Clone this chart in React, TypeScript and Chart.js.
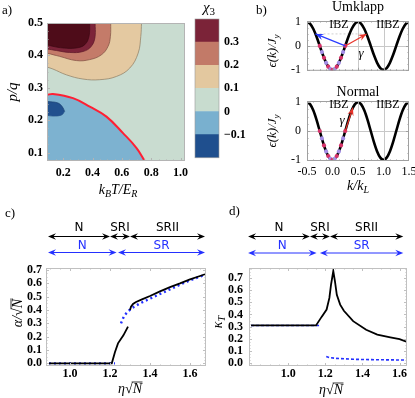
import React, { useEffect, useRef } from "react";
import { Chart, registerables } from "chart.js";

Chart.register(...registerables);

const SERIF = '"Liberation Serif", "DejaVu Serif", serif';
const SANS = '"DejaVu Sans", "Liberation Sans", sans-serif';

// ================= Panel a : chi3 contour map =================
const aXTicks = [0.2, 0.4, 0.6, 0.8, 1.0];
const aYTicks = [0.1, 0.2, 0.3, 0.4, 0.5];
const beigeX = [0.09, 0.13, 0.222, 0.335, 0.449, 0.563, 0.654, 0.711, 0.729, 0.734];
const beigeY = [0.364, 0.358, 0.34, 0.327, 0.325, 0.335, 0.361, 0.407, 0.459, 0.5];
const salmonX = [0.09, 0.176, 0.29, 0.381, 0.461, 0.506, 0.522, 0.524];
const salmonY = [0.407, 0.397, 0.384, 0.387, 0.402, 0.428, 0.459, 0.5];
const maroonX = [0.09, 0.154, 0.244, 0.335, 0.392, 0.418, 0.418];
const maroonY = [0.42, 0.415, 0.409, 0.412, 0.428, 0.459, 0.5];
const darkX = [0.09, 0.13, 0.199, 0.29, 0.347, 0.376, 0.381];
const darkY = [0.433, 0.428, 0.423, 0.423, 0.433, 0.459, 0.5];
const zeroX = [0.09, 0.13, 0.267, 0.381, 0.495, 0.608, 0.7, 0.756];
const zeroY = [0.278, 0.281, 0.268, 0.242, 0.211, 0.16, 0.114, 0.074];
const blobTopX = [0.09, 0.165, 0.195, 0.21];
const blobTopY = [0.258, 0.253, 0.241, 0.227];
const blobBotX = [0.09, 0.13, 0.188, 0.21];
const blobBotY = [0.215, 0.213, 0.216, 0.227];

// ================= colour bar =================
const cbLevels = [-0.2, -0.1, 0, 0.1, 0.2, 0.3, 0.4];
const cbColors = ["#1f4f8e", "#79b0cf", "#c8dccf", "#e3c89f", "#c27a68", "#7b2338"];
const cbTicks = [-0.1, 0, 0.1, 0.2, 0.3];

// ================= Panel b : dispersion =================
const bK = [-0.5, -0.4375, -0.375, -0.3125, -0.25, -0.1875, -0.125, -0.0625, 0, 0.0625, 0.125, 0.1875, 0.25, 0.3125, 0.375, 0.4375, 0.5, 0.5625, 0.625, 0.6875, 0.75, 0.8125, 0.875, 0.9375, 1.0, 1.0625, 1.125, 1.1875, 1.25, 1.3125, 1.375, 1.4375, 1.5];
const bE = [1, 0.924, 0.707, 0.383, 0, -0.383, -0.707, -0.924, -1, -0.924, -0.707, -0.383, 0, 0.383, 0.707, 0.924, 1, 0.924, 0.707, 0.383, 0, -0.383, -0.707, -0.924, -1, -0.924, -0.707, -0.383, 0, 0.383, 0.707, 0.924, 1];
const bDotK = [-0.25, -0.208, -0.167, -0.125, -0.083, -0.042, 0, 0.042, 0.083, 0.125, 0.167, 0.208, 0.25];
const bDotE = [0, -0.259, -0.5, -0.707, -0.866, -0.966, -1, -0.966, -0.866, -0.707, -0.5, -0.259, 0];
const bXTicks = [-0.5, 0, 0.5, 1.0, 1.5];
const bYTicks = [-1, 0, 1];
const bGridX = [0.5, 1.0];
const bGridY = [0];
const umklappBlueX = [0.25, -0.333];
const umklappBlueY = [0, 0.5];
const umklappRedX = [0.25, 0.667];
const umklappRedY = [0, 0.5];
const halfLineX = [-0.333, 0.667];
const halfLineY = [0.5, 0.5];
const normalRedX = [0.25, 0.4];
const normalRedY = [0, 0.81];

// ================= Panel c : alpha / sqrt(N) =================
const cXTicks = [1.0, 1.2, 1.4, 1.6];
const cYTicks = [0, 0.1, 0.2, 0.3, 0.4, 0.5, 0.6, 0.7];
const cBlackX = [0.895, 1.0, 1.1, 1.2, 1.209, 1.225, 1.24, 1.267, 1.29, 1.295, 1.3, 1.305, 1.315, 1.33, 1.36, 1.4, 1.45, 1.5, 1.55, 1.6, 1.65, 1.678];
const cBlackY = [0, 0, 0, 0, 0, 0.085, 0.15, 0.21, 0.275, null, 0.4, 0.425, 0.445, 0.46, 0.48, 0.505, 0.54, 0.572, 0.6, 0.63, 0.655, 0.67];
const cBlueX = [0.895, 1.0, 1.1, 1.2, 1.225, 1.24, 1.255, 1.27, 1.29, 1.31, 1.35, 1.4, 1.45, 1.5, 1.55, 1.6, 1.65, 1.678];
const cBlueY = [0, 0, 0, 0, 0, null, 0.3, 0.355, 0.39, 0.415, 0.45, 0.485, 0.52, 0.555, 0.59, 0.622, 0.65, 0.665];
const cPhaseBlack = [[0.89, 1.2], [1.2, 1.3], [1.3, 1.675]];
const cPhaseBlue = [[0.89, 1.233], [1.24, 1.675]];

// ================= Panel d : kappa_T =================
const dXTicks = [1.0, 1.2, 1.4, 1.6];
const dYTicks = [0, 0.1, 0.2, 0.3, 0.4, 0.5, 0.6, 0.7];
const dBlackX = [0.8, 0.9, 1.0, 1.1, 1.15, 1.18, 1.207, 1.222, 1.231, 1.243, 1.252, 1.262, 1.28, 1.3, 1.35, 1.42, 1.48, 1.55, 1.6, 1.64];
const dBlackY = [0.31, 0.31, 0.31, 0.31, 0.31, 0.38, 0.44, 0.535, 0.645, 0.755, 0.67, 0.56, 0.48, 0.43, 0.345, 0.275, 0.235, 0.212, 0.197, 0.175];
const dBlueX = [0.8, 0.9, 1.0, 1.1, 1.175, 1.19, 1.205, 1.22, 1.26, 1.35, 1.45, 1.55, 1.64];
const dBlueY = [0.31, 0.31, 0.31, 0.31, 0.31, null, 0.055, 0.047, 0.04, 0.033, 0.03, 0.028, 0.027];
const dPhaseBlack = [[0.784, 1.117], [1.117, 1.225], [1.225, 1.62]];
const dPhaseBlue = [[0.784, 1.153], [1.171, 1.62]];
const phaseBlackLabels = ["N", "SRI", "SRII"];
const phaseBlueLabels = ["N", "SR"];

const BLUE = "#2430ff";

// ---------------- helpers ----------------
type Part = { t: string; it?: boolean; sub?: boolean; over?: boolean };

function drawRich(ctx: any, parts: Part[], x: number, y: number, size: number, align = "center", rot = 0, color = "#000", family = SERIF) {
  ctx.save();
  ctx.translate(x, y);
  if (rot) ctx.rotate(rot);
  ctx.fillStyle = color;
  ctx.strokeStyle = color;
  ctx.textBaseline = "middle";
  ctx.textAlign = "left";
  const fontOf = (p: Part) => `${p.it ? "italic " : ""}${p.sub ? Math.round(size * 0.7) : size}px ${family}`;
  let total = 0;
  const ws = parts.map((p) => {
    ctx.font = fontOf(p);
    const w = ctx.measureText(p.t).width;
    total += w;
    return w;
  });
  let cx = align === "center" ? -total / 2 : align === "right" ? -total : 0;
  parts.forEach((p, i) => {
    ctx.font = fontOf(p);
    const dy = p.sub ? size * 0.3 : 0;
    ctx.fillText(p.t, cx, dy);
    if (p.over) {
      ctx.lineWidth = 0.8;
      ctx.beginPath();
      ctx.moveTo(cx - 1, -size * 0.5);
      ctx.lineTo(cx + ws[i] + 0.5, -size * 0.5);
      ctx.stroke();
    }
    cx += ws[i];
  });
  ctx.restore();
}

function arrowHead(ctx: any, x0: number, y0: number, x1: number, y1: number, len: number, half: number, color: string) {
  const a = Math.atan2(y1 - y0, x1 - x0);
  ctx.save();
  ctx.translate(x1, y1);
  ctx.rotate(a);
  ctx.fillStyle = color;
  ctx.beginPath();
  ctx.moveTo(0, 0);
  ctx.lineTo(-len, -half);
  ctx.lineTo(-len * 0.65, 0);
  ctx.lineTo(-len, half);
  ctx.closePath();
  ctx.fill();
  ctx.restore();
}

function drawFrame(chart: any, color: string, xMaj: number[], yMaj: number[], majLen = 4, mirror = true) {
  const { ctx, chartArea } = chart;
  const { left, right, top, bottom } = chartArea;
  const sx = chart.scales.x;
  const sy = chart.scales.y;
  ctx.save();
  ctx.strokeStyle = color;
  ctx.lineWidth = 1;
  ctx.strokeRect(left + 0.5, top + 0.5, right - left - 1, bottom - top - 1);
  const minorOf = (vals: number[], lo: number, hi: number) => {
    const out: number[] = [];
    if (vals.length < 2) return out;
    const step = (vals[1] - vals[0]) / 4;
    for (let v = vals[0] - step * 8; v <= hi + 1e-9; v += step) {
      if (v >= lo - 1e-9) out.push(v);
    }
    return out;
  };
  const drawX = (vals: number[], len: number) => {
    vals.forEach((v) => {
      const p = Math.round(sx.getPixelForValue(v)) + 0.5;
      if (p < left || p > right) return;
      ctx.beginPath();
      ctx.moveTo(p, bottom);
      ctx.lineTo(p, bottom - len);
      if (mirror) {
        ctx.moveTo(p, top);
        ctx.lineTo(p, top + len);
      }
      ctx.stroke();
    });
  };
  const drawY = (vals: number[], len: number) => {
    vals.forEach((v) => {
      const p = Math.round(sy.getPixelForValue(v)) + 0.5;
      if (p < top || p > bottom) return;
      ctx.beginPath();
      ctx.moveTo(left, p);
      ctx.lineTo(left + len, p);
      if (mirror) {
        ctx.moveTo(right, p);
        ctx.lineTo(right - len, p);
      }
      ctx.stroke();
    });
  };
  drawX(xMaj, majLen);
  drawY(yMaj, majLen);
  drawX(minorOf(xMaj, sx.min, sx.max), majLen / 2);
  drawY(minorOf(yMaj, sy.min, sy.max), majLen / 2);
  ctx.restore();
}

function pts(xs: number[], ys: any[]) {
  return xs.map((x, i) => ({ x, y: ys[i] }));
}

function axis(min: number, max: number, ticks: number[], fmt: (v: number) => string, o: any) {
  return {
    type: "linear",
    min,
    max,
    position: o.position,
    display: o.display !== false,
    grid: { display: false, drawTicks: false },
    border: { display: false },
    ticks: {
      display: o.show !== false,
      font: o.font,
      color: "#000",
      padding: o.pad ?? 4,
      autoSkip: false,
      maxRotation: 0,
      minRotation: 0,
      callback: (v: any) => fmt(Number(v)),
    },
    afterBuildTicks: (s: any) => {
      s.ticks = ticks.map((v) => ({ value: v }));
    },
    afterFit: (s: any) => {
      if (o.w != null) s.width = o.w;
      if (o.h != null) s.height = o.h;
    },
  };
}

const boldTick = { family: SERIF, size: 12, weight: "bold" };
const regTick = { family: SERIF, size: 12 };
const f1 = (v: number) => v.toFixed(1);
const baseOpts = {
  responsive: false,
  maintainAspectRatio: false,
  animation: false,
  devicePixelRatio: 1,
  events: [],
};
const noPlugins = { legend: { display: false }, tooltip: { enabled: false }, title: { display: false } };

function lineDS(xs: number[], ys: any[], extra: any) {
  return { data: pts(xs, ys), pointRadius: 0, borderWidth: 1, fill: false, ...extra };
}

// ---------------- panel boxes ----------------
const A_BOX = { left: 0, top: 0, width: 200, height: 200 };
const CB_BOX = { left: 190, top: 0, width: 60, height: 170 };
const BT_BOX = { left: 250, top: 0, width: 175, height: 84 };
const BB_BOX = { left: 250, top: 80, width: 175, height: 120 };
const C_BOX = { left: 0, top: 205, width: 210, height: 193 };
const D_BOX = { left: 210, top: 205, width: 205, height: 193 };

function decor(box: any, opts: any) {
  return {
    id: "decor",
    beforeDraw(chart: any) {
      if (opts.bg) {
        const { left, right, top, bottom } = chart.chartArea;
        chart.ctx.save();
        chart.ctx.fillStyle = opts.bg;
        chart.ctx.fillRect(left, top, right - left, bottom - top);
        chart.ctx.restore();
      }
    },
    beforeDatasetsDraw(chart: any) {
      if (opts.grid) opts.grid(chart);
    },
    afterDatasetsDraw(chart: any) {
      if (opts.frame) opts.frame(chart);
    },
    afterDraw(chart: any) {
      const ctx = chart.ctx;
      ctx.save();
      ctx.translate(-box.left, -box.top);
      const px = (v: number) => chart.scales.x.getPixelForValue(v) + box.left;
      const py = (v: number) => chart.scales.y.getPixelForValue(v) + box.top;
      if (opts.text) opts.text(ctx, px, py);
      ctx.restore();
    },
  };
}

// ---------------- chart configs ----------------
function makeA(): any {
  const edge = 0.7;
  return {
    type: "line",
    data: {
      datasets: [
        lineDS(darkX, darkY, { fill: "end", backgroundColor: "#4e0c19", borderColor: "#3a0711", borderWidth: edge, tension: 0.4, order: 1 }),
        lineDS(maroonX, maroonY, { fill: "end", backgroundColor: "#7c2439", borderColor: "#5a1626", borderWidth: edge, tension: 0.4, order: 2 }),
        lineDS(salmonX, salmonY, { fill: "end", backgroundColor: "#c47b69", borderColor: "#7d4a3f", borderWidth: edge, tension: 0.4, order: 3 }),
        lineDS(beigeX, beigeY, { fill: "end", backgroundColor: "#e4c9a1", borderColor: "#8c7b62", borderWidth: edge, tension: 0.4, order: 4 }),
        lineDS(blobTopX, blobTopY, { fill: "+1", backgroundColor: "#21508e", borderColor: "#183d70", borderWidth: edge, tension: 0.4, order: 5 }),
        lineDS(blobBotX, blobBotY, { borderColor: "#183d70", borderWidth: edge, tension: 0.4, order: 6 }),
        lineDS(zeroX, zeroY, { fill: "start", backgroundColor: "#7db2d0", borderColor: "#ff1f33", borderWidth: 2, tension: 0.4, order: 7 }),
      ],
    },
    options: {
      ...baseOpts,
      layout: { padding: { left: 0, top: 23, right: 15, bottom: 0 } },
      plugins: noPlugins,
      scales: {
        x: axis(0.09, 1.03, aXTicks, f1, { font: boldTick, pad: 5, h: 39 }),
        y: axis(0.074, 0.5, aYTicks, f1, { font: boldTick, pad: 4, w: 47 }),
      },
    },
    plugins: [
      decor(A_BOX, {
        bg: "#c9dcd0",
        frame: (ch: any) => drawFrame(ch, "#b4b4b4", aXTicks, aYTicks, 3, false),
        text: (ctx: any) => {
          drawRich(ctx, [{ t: "a)" }], 2, 11, 13, "left");
          drawRich(ctx, [{ t: "p/q", it: true }], 13, 92, 15, "center", -Math.PI / 2);
          drawRich(ctx, [{ t: "k", it: true }, { t: "B", it: true, sub: true }, { t: "T/E", it: true }, { t: "R", it: true, sub: true }], 118, 190, 14);
        },
      }),
    ],
  };
}

function makeCB(): any {
  const datasets = cbColors.map((c, i) => ({
    data: [[cbLevels[i], cbLevels[i + 1]]],
    backgroundColor: c,
    borderWidth: 0,
    barPercentage: 1,
    categoryPercentage: 1,
  }));
  return {
    type: "bar",
    data: { labels: ["χ3"], datasets },
    options: {
      ...baseOpts,
      layout: { padding: { left: 5, top: 19, right: 0, bottom: 6 } },
      plugins: noPlugins,
      scales: {
        x: { type: "category", stacked: true, display: false },
        y: {
          ...axis(-0.2, 0.4, cbTicks, (v) => (Math.abs(v) < 1e-9 ? "0" : v < 0 ? "\u2212" + Math.abs(v).toFixed(1) : v.toFixed(1)), { font: boldTick, pad: 5, w: 31, position: "right" }),
        },
      },
    },
    plugins: [
      decor(CB_BOX, {
        frame: (ch: any) => {
          const { ctx, chartArea } = ch;
          ctx.save();
          ctx.strokeStyle = "#9a9a9a";
          ctx.lineWidth = 0.6;
          ctx.strokeRect(chartArea.left, chartArea.top, chartArea.right - chartArea.left, chartArea.bottom - chartArea.top);
          ctx.restore();
        },
        text: (ctx: any) => {
          drawRich(ctx, [{ t: "χ", it: true }, { t: "3", sub: true }], 209, 8, 15);
        },
      }),
    ],
  };
}

function bGrid(ch: any) {
  const { ctx, chartArea } = ch;
  ctx.save();
  ctx.strokeStyle = "#c8c8c8";
  ctx.lineWidth = 1;
  bGridX.forEach((v) => {
    const p = Math.round(ch.scales.x.getPixelForValue(v)) + 0.5;
    ctx.beginPath();
    ctx.moveTo(p, chartArea.top);
    ctx.lineTo(p, chartArea.bottom);
    ctx.stroke();
  });
  bGridY.forEach((v) => {
    const p = Math.round(ch.scales.y.getPixelForValue(v)) + 0.5;
    ctx.beginPath();
    ctx.moveTo(chartArea.left, p);
    ctx.lineTo(chartArea.right, p);
    ctx.stroke();
  });
  ctx.restore();
}

function bCommonDatasets() {
  const dotColors = bDotK.map((_, i) => (i % 2 === 0 ? "#d8336a" : "#a58ee8"));
  return [
    lineDS(bDotK, bDotE, { showLine: false, pointRadius: 2.1, pointBackgroundColor: dotColors, pointBorderWidth: 0, order: 1 }),
    lineDS(bK, bE, { borderColor: "#000", borderWidth: 2.6, cubicInterpolationMode: "monotone", order: 2 }),
  ];
}

function arrowHeadsFor(ch: any, list: any[]) {
  const ctx = ch.ctx;
  list.forEach(([xs, ys, color]) => {
    const x0 = ch.scales.x.getPixelForValue(xs[0]);
    const y0 = ch.scales.y.getPixelForValue(ys[0]);
    const x1 = ch.scales.x.getPixelForValue(xs[1]);
    const y1 = ch.scales.y.getPixelForValue(ys[1]);
    arrowHead(ctx, x0, y0, x1, y1, 8, 3.2, color);
  });
}

function makeBTop(): any {
  return {
    type: "line",
    data: {
      datasets: [
        lineDS(umklappBlueX, umklappBlueY, { borderColor: "#2a3cff", borderWidth: 1.2, order: 0 }),
        lineDS(umklappRedX, umklappRedY, { borderColor: "#e8342a", borderWidth: 1.2, order: 0 }),
        ...bCommonDatasets(),
        lineDS(halfLineX, halfLineY, { borderColor: "#c4c4c4", borderWidth: 0.8, borderDash: [2, 2], order: 5 }),
      ],
    },
    options: {
      ...baseOpts,
      layout: { padding: { left: 0, top: 21, right: 16, bottom: 0 } },
      plugins: noPlugins,
      scales: {
        x: axis(-0.5, 1.5, bXTicks, f1, { show: false, h: 3 }),
        y: axis(-1.04, 1.04, bYTicks, (v) => String(v), { font: regTick, pad: 6, w: 57 }),
      },
    },
    plugins: [
      decor(BT_BOX, {
        grid: bGrid,
        frame: (ch: any) => {
          arrowHeadsFor(ch, [[umklappBlueX, umklappBlueY, "#2a3cff"], [umklappRedX, umklappRedY, "#e8342a"]]);
          drawFrame(ch, "#a0a0a0", bXTicks, bYTicks, 3);
        },
        text: (ctx: any) => {
          drawRich(ctx, [{ t: "b)" }], 256, 11, 13, "left");
          drawRich(ctx, [{ t: "Umklapp" }], 358, 7, 14);
          drawRich(ctx, [{ t: "IBZ" }], 339, 25, 12);
          drawRich(ctx, [{ t: "IIBZ" }], 388, 25, 12);
          drawRich(ctx, [{ t: "γ", it: true }], 361, 54, 13);
          drawRich(ctx, [{ t: "ϵ(k)/J", it: true }, { t: "y", it: true, sub: true }], 273, 51, 13, "center", -Math.PI / 2);
        },
      }),
    ],
  };
}

function makeBBottom(): any {
  return {
    type: "line",
    data: {
      datasets: [
        lineDS(normalRedX, normalRedY, { borderColor: "#e8342a", borderWidth: 1.2, order: 0 }),
        ...bCommonDatasets(),
      ],
    },
    options: {
      ...baseOpts,
      layout: { padding: { left: 0, top: 21, right: 16, bottom: 0 } },
      plugins: noPlugins,
      scales: {
        x: axis(-0.5, 1.5, bXTicks, f1, { font: regTick, pad: 4, h: 39 }),
        y: axis(-1.04, 1.04, bYTicks, (v) => String(v), { font: regTick, pad: 6, w: 57 }),
      },
    },
    plugins: [
      decor(BB_BOX, {
        grid: bGrid,
        frame: (ch: any) => {
          arrowHeadsFor(ch, [[normalRedX, normalRedY, "#e8342a"]]);
          drawFrame(ch, "#a0a0a0", bXTicks, bYTicks, 3);
        },
        text: (ctx: any) => {
          drawRich(ctx, [{ t: "Normal" }], 358, 92, 14);
          drawRich(ctx, [{ t: "IBZ" }], 339, 105, 12);
          drawRich(ctx, [{ t: "IIBZ" }], 388, 105, 12);
          drawRich(ctx, [{ t: "γ", it: true }], 342, 121, 13);
          drawRich(ctx, [{ t: "ϵ(k)/J", it: true }, { t: "y", it: true, sub: true }], 273, 131, 13, "center", -Math.PI / 2);
          drawRich(ctx, [{ t: "k/k", it: true }, { t: "L", it: true, sub: true }], 358, 186, 14);
        },
      }),
    ],
  };
}

function phaseRows(ctx: any, px: (v: number) => number, black: number[][], blue: number[][], yB: number, yBT: number, yU: number, yUT: number) {
  const row = (segs: number[][], labels: string[], y: number, yt: number, color: string) => {
    segs.forEach(([a, b], i) => {
      const x1 = px(a);
      const x2 = px(b);
      ctx.save();
      ctx.strokeStyle = color;
      ctx.lineWidth = 1;
      ctx.beginPath();
      ctx.moveTo(x1 + 3, y);
      ctx.lineTo(x2 - 3, y);
      ctx.stroke();
      ctx.restore();
      arrowHead(ctx, x2, y, x1, y, 8, 3.2, color);
      arrowHead(ctx, x1, y, x2, y, 8, 3.2, color);
      drawRich(ctx, [{ t: labels[i] }], (x1 + x2) / 2, yt, 12, "center", 0, color, SANS);
    });
  };
  row(black, phaseBlackLabels, yB, yBT, "#000");
  row(blue, phaseBlueLabels, yU, yUT, BLUE);
}

function makeC(): any {
  return {
    type: "line",
    data: {
      datasets: [
        lineDS(cBlackX, cBlackY, { borderColor: "#000", borderWidth: 1.8, order: 1 }),
        lineDS(cBlueX, cBlueY, { borderColor: BLUE, borderWidth: 2.4, borderDash: [2, 3], order: 2 }),
      ],
    },
    options: {
      ...baseOpts,
      layout: { padding: { left: 0, top: 63, right: 4, bottom: 0 } },
      plugins: noPlugins,
      scales: {
        x: axis(0.88, 1.68, cXTicks, f1, { font: boldTick, pad: 1, h: 32 }),
        y: axis(-0.02, 0.715, cYTicks, f1, { font: boldTick, pad: 4, w: 46 }),
      },
    },
    plugins: [
      decor(C_BOX, {
        frame: (ch: any) => drawFrame(ch, "#c0c0c0", cXTicks, cYTicks, 3),
        text: (ctx: any, px: any) => {
          drawRich(ctx, [{ t: "c)" }], 5, 214, 13, "left");
          phaseRows(ctx, px, cPhaseBlack, cPhaseBlue, 236.5, 228, 252.5, 245.5);
          drawRich(ctx, [{ t: "α/", it: true }, { t: "√" }, { t: "N", it: true, over: true }], 18, 313, 14, "center", -Math.PI / 2);
          drawRich(ctx, [{ t: "η", it: true }, { t: "√" }, { t: "N", it: true, over: true }], 130, 389, 14);
        },
      }),
    ],
  };
}

function makeD(): any {
  return {
    type: "line",
    data: {
      datasets: [
        lineDS(dBlackX, dBlackY, { borderColor: "#000", borderWidth: 1.8, order: 1 }),
        lineDS(dBlueX, dBlueY, { borderColor: BLUE, borderWidth: 1.6, borderDash: [3, 2], order: 2 }),
      ],
    },
    options: {
      ...baseOpts,
      layout: { padding: { left: 0, top: 63, right: 8, bottom: 0 } },
      plugins: noPlugins,
      scales: {
        x: axis(0.789, 1.64, dXTicks, f1, { font: boldTick, pad: 1, h: 32 }),
        y: axis(-0.022, 0.78, dYTicks, f1, { font: boldTick, pad: 6, w: 39 }),
      },
    },
    plugins: [
      decor(D_BOX, {
        frame: (ch: any) => drawFrame(ch, "#c0c0c0", dXTicks, dYTicks, 3),
        text: (ctx: any, px: any) => {
          drawRich(ctx, [{ t: "d)" }], 229, 212, 13, "left");
          phaseRows(ctx, px, dPhaseBlack, dPhaseBlue, 236.5, 228, 253, 245.5);
          drawRich(ctx, [{ t: "κ", it: true }, { t: "T", it: true, sub: true }], 218, 322, 14, "center", -Math.PI / 2);
          drawRich(ctx, [{ t: "η", it: true }, { t: "√" }, { t: "N", it: true, over: true }], 331, 390, 14);
        },
      }),
    ],
  };
}

function Panel({ box, make }: { box: any; make: () => any }) {
  const ref = useRef<HTMLCanvasElement>(null);
  useEffect(() => {
    const chart = new Chart(ref.current as HTMLCanvasElement, make());
    return () => chart.destroy();
  }, []);
  return (
    <canvas
      ref={ref}
      width={box.width}
      height={box.height}
      style={{ position: "absolute", left: box.left, top: box.top, width: box.width, height: box.height }}
    />
  );
}

export default function App() {
  return (
    <div style={{ position: "absolute", left: 0, top: 0, width: 415, height: 398, overflow: "hidden", background: "#fff" }}>
      <Panel box={A_BOX} make={makeA} />
      <Panel box={CB_BOX} make={makeCB} />
      <Panel box={BT_BOX} make={makeBTop} />
      <Panel box={BB_BOX} make={makeBBottom} />
      <Panel box={C_BOX} make={makeC} />
      <Panel box={D_BOX} make={makeD} />
    </div>
  );
}
